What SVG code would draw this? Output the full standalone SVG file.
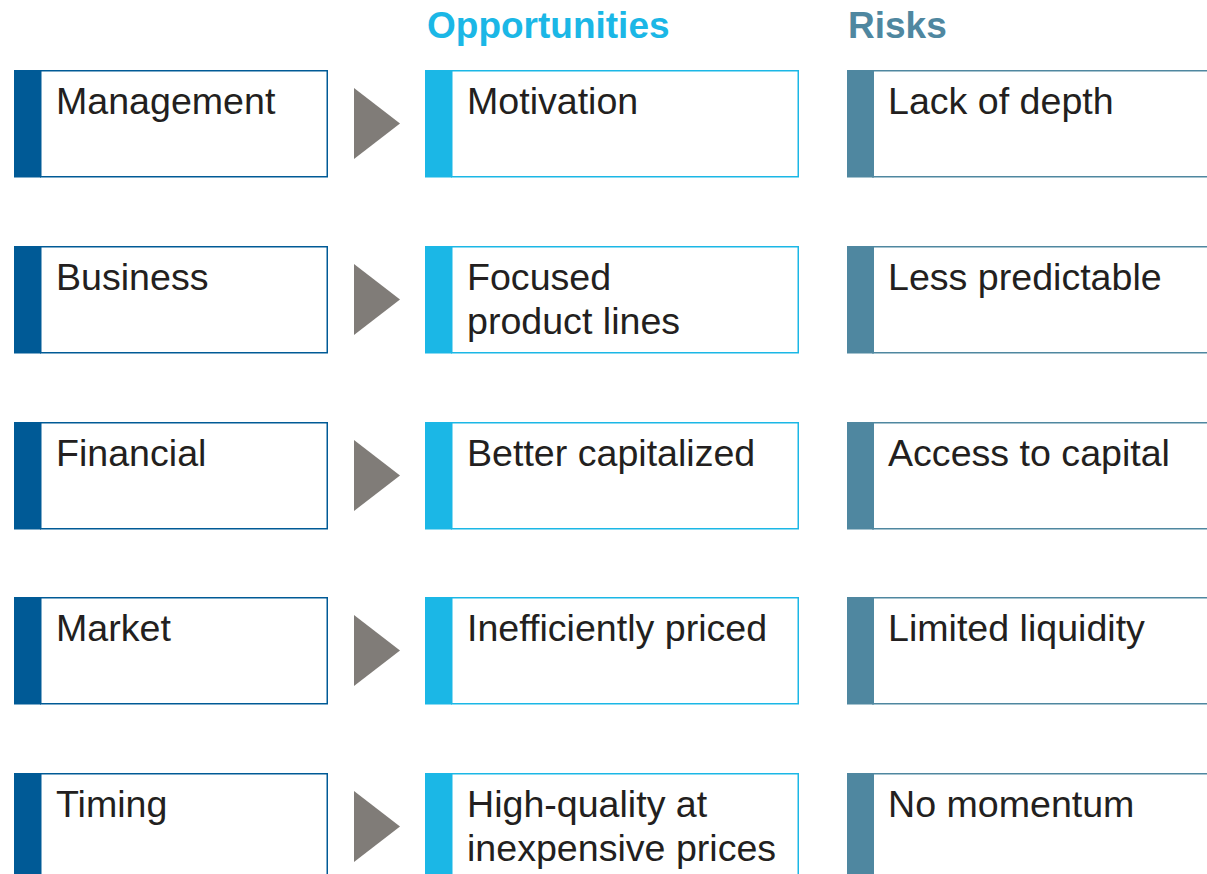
<svg xmlns="http://www.w3.org/2000/svg" width="1207" height="874" viewBox="0 0 1207 874">
  <style>
    .hdr { font-family: "Liberation Sans", Arial, sans-serif; font-weight: bold; font-size: 37px; }
    .lbl { font-family: "Liberation Sans", Arial, sans-serif; font-size: 37.6px; fill: #231f20; }
    .box { fill: #ffffff; stroke-width: 1.5; }
    .factor .bar { fill: #005a96; }
    .factor .box { stroke: #005a96; }
    .opp .bar { fill: #1bb7e6; }
    .opp .box { stroke: #1bb7e6; }
    .risk .bar { fill: #4f87a0; }
    .risk .box { stroke: #4f87a0; }
    .arrow { fill: #807c78; }
  </style>
  <defs>
    <polygon id="tri" points="0,0 46,35.5 0,71"/>
  </defs>
  <rect width="1207" height="874" fill="#ffffff"/>

  <text class="hdr" x="427" y="38" fill="#1bb7e6">Opportunities</text>
  <text class="hdr" x="848" y="38" fill="#4f87a0">Risks</text>

  <!-- Row 1 -->
  <g id="factor-management" class="factor">
    <rect class="box" x="40.75" y="70.75" width="286.5" height="106"/>
    <rect class="bar" x="14" y="70" width="27" height="107.5"/>
    <text class="lbl" x="56" y="114">Management</text>
  </g>
  <g id="opp-motivation" class="opp">
    <rect class="box" x="451.75" y="70.75" width="346.5" height="106"/>
    <rect class="bar" x="425" y="70" width="27" height="107.5"/>
    <text class="lbl" x="467" y="114">Motivation</text>
  </g>
  <g id="risk-depth" class="risk">
    <rect class="box" x="872.75" y="70.75" width="340" height="106"/>
    <rect class="bar" x="847" y="70" width="27" height="107.5"/>
    <text class="lbl" x="888" y="114">Lack of depth</text>
  </g>

  <!-- Row 2 -->
  <g id="factor-business" class="factor">
    <rect class="box" x="40.75" y="246.75" width="286.5" height="106"/>
    <rect class="bar" x="14" y="246" width="27" height="107.5"/>
    <text class="lbl" x="56" y="290">Business</text>
  </g>
  <g id="opp-focused" class="opp">
    <rect class="box" x="451.75" y="246.75" width="346.5" height="106"/>
    <rect class="bar" x="425" y="246" width="27" height="107.5"/>
    <text class="lbl" x="467" y="290">Focused</text>
    <text class="lbl" x="467" y="334">product lines</text>
  </g>
  <g id="risk-predictable" class="risk">
    <rect class="box" x="872.75" y="246.75" width="340" height="106"/>
    <rect class="bar" x="847" y="246" width="27" height="107.5"/>
    <text class="lbl" x="888" y="290">Less predictable</text>
  </g>

  <!-- Row 3 -->
  <g id="factor-financial" class="factor">
    <rect class="box" x="40.75" y="422.75" width="286.5" height="106"/>
    <rect class="bar" x="14" y="422" width="27" height="107.5"/>
    <text class="lbl" x="56" y="466">Financial</text>
  </g>
  <g id="opp-capitalized" class="opp">
    <rect class="box" x="451.75" y="422.75" width="346.5" height="106"/>
    <rect class="bar" x="425" y="422" width="27" height="107.5"/>
    <text class="lbl" x="467" y="466">Better capitalized</text>
  </g>
  <g id="risk-capital" class="risk">
    <rect class="box" x="872.75" y="422.75" width="340" height="106"/>
    <rect class="bar" x="847" y="422" width="27" height="107.5"/>
    <text class="lbl" x="888" y="466">Access to capital</text>
  </g>

  <!-- Row 4 -->
  <g id="factor-market" class="factor">
    <rect class="box" x="40.75" y="597.75" width="286.5" height="106"/>
    <rect class="bar" x="14" y="597" width="27" height="107.5"/>
    <text class="lbl" x="56" y="641">Market</text>
  </g>
  <g id="opp-priced" class="opp">
    <rect class="box" x="451.75" y="597.75" width="346.5" height="106"/>
    <rect class="bar" x="425" y="597" width="27" height="107.5"/>
    <text class="lbl" x="467" y="641">Inefficiently priced</text>
  </g>
  <g id="risk-liquidity" class="risk">
    <rect class="box" x="872.75" y="597.75" width="340" height="106"/>
    <rect class="bar" x="847" y="597" width="27" height="107.5"/>
    <text class="lbl" x="888" y="641">Limited liquidity</text>
  </g>

  <!-- Row 5 -->
  <g id="factor-timing" class="factor">
    <rect class="box" x="40.75" y="773.75" width="286.5" height="106"/>
    <rect class="bar" x="14" y="773" width="27" height="107.5"/>
    <text class="lbl" x="56" y="817">Timing</text>
  </g>
  <g id="opp-quality" class="opp">
    <rect class="box" x="451.75" y="773.75" width="346.5" height="106"/>
    <rect class="bar" x="425" y="773" width="27" height="107.5"/>
    <text class="lbl" x="467" y="817">High-quality at</text>
    <text class="lbl" x="467" y="861">inexpensive prices</text>
  </g>
  <g id="risk-momentum" class="risk">
    <rect class="box" x="872.75" y="773.75" width="340" height="106"/>
    <rect class="bar" x="847" y="773" width="27" height="107.5"/>
    <text class="lbl" x="888" y="817">No momentum</text>
  </g>

  <!-- Arrows between factor and opportunity columns -->
  <g id="connectors" class="arrow">
    <use href="#tri" x="354" y="88"/>
    <use href="#tri" x="354" y="264"/>
    <use href="#tri" x="354" y="440"/>
    <use href="#tri" x="354" y="615"/>
    <use href="#tri" x="354" y="791"/>
  </g>
</svg>
